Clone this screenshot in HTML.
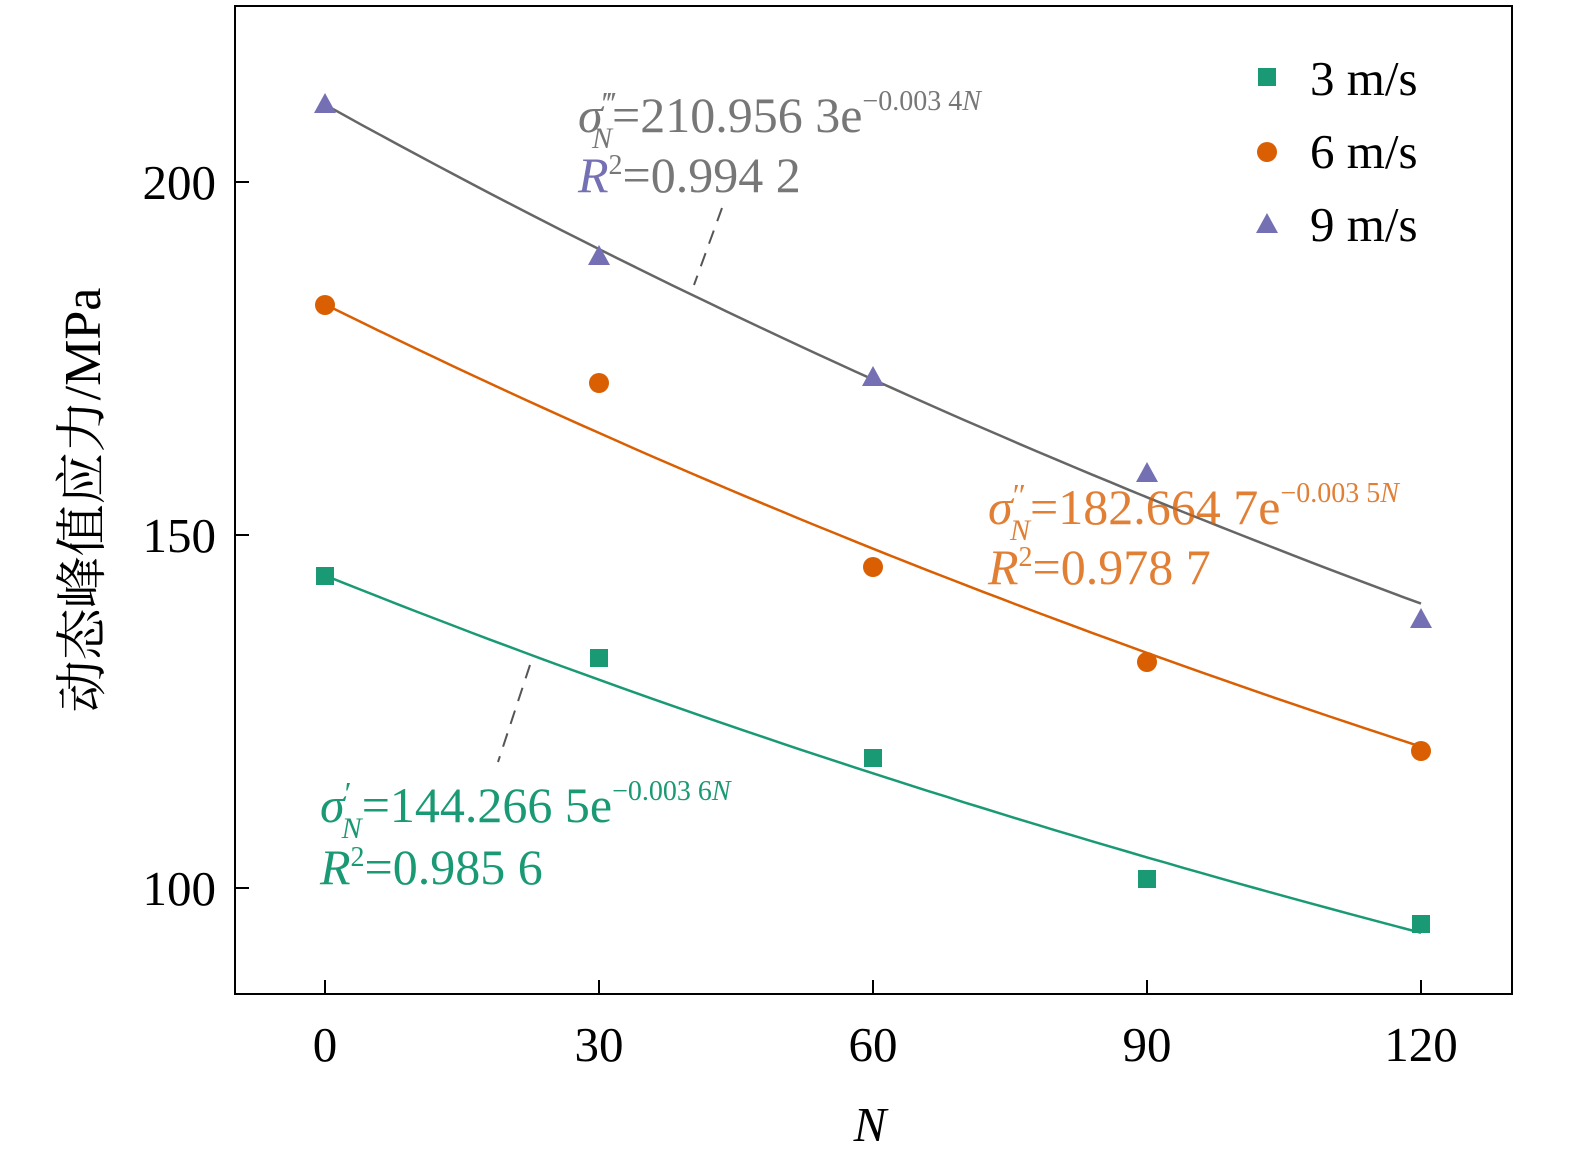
<!DOCTYPE html><html><head><meta charset="utf-8"><style>body{margin:0;background:#fff}svg{display:block}text{font-family:"Liberation Serif","Noto Serif CJK SC",serif}</style></head><body>
<svg id="s" width="1575" height="1153" xmlns="http://www.w3.org/2000/svg">
<rect x="235" y="6" width="1277" height="988" fill="none" stroke="#000" stroke-width="2"/>
<g stroke="#000" stroke-width="2">
<line x1="325" y1="994" x2="325" y2="980"/><line x1="599" y1="994" x2="599" y2="980"/><line x1="873" y1="994" x2="873" y2="980"/><line x1="1147" y1="994" x2="1147" y2="980"/><line x1="1421" y1="994" x2="1421" y2="980"/>
<line x1="235" y1="182" x2="249" y2="182"/><line x1="235" y1="535" x2="249" y2="535"/><line x1="235" y1="888" x2="249" y2="888"/>
</g>
<g font-size="49" text-anchor="middle" fill="#000">
<text x="325" y="1061">0</text><text x="599" y="1061">30</text><text x="873" y="1061">60</text><text x="1147" y="1061">90</text><text x="1421" y="1061">120</text>
<text x="870" y="1141" font-style="italic">N</text>
</g>
<g font-size="49" text-anchor="end"><text x="216" y="199">200</text><text x="216" y="552">150</text><text x="216" y="905">100</text></g>
<text transform="translate(100,500) rotate(-90)" font-size="52" text-anchor="middle">动态峰值应力/MPa</text>
<g id="curves"></g>
<g stroke-dasharray="14,10" stroke="#555" stroke-width="2"><line x1="722" y1="208" x2="694" y2="285"/><line x1="530" y1="665" x2="498" y2="762"/></g>
<g fill="#1a9a74"><rect x="316" y="567" width="18" height="18"/><rect x="590" y="649" width="18" height="18"/><rect x="864" y="749" width="18" height="18"/><rect x="1138" y="870" width="18" height="18"/><rect x="1412" y="915" width="18" height="18"/><rect x="1258" y="68" width="18" height="18"/></g>
<g fill="#d95f02"><circle cx="325" cy="305" r="10"/><circle cx="599" cy="383" r="10"/><circle cx="873" cy="567" r="10"/><circle cx="1147" cy="662" r="10"/><circle cx="1421" cy="751" r="10"/><circle cx="1267" cy="152" r="10"/></g>
<g fill="#7570b3"><path d="M325,93 l11,20 h-22z"/><path d="M599,245 l11,20 h-22z"/><path d="M873,366 l11,20 h-22z"/><path d="M1147,462 l11,20 h-22z"/><path d="M1421,608 l11,20 h-22z"/><path d="M1267,213 l11,20 h-22z"/></g>
<g font-size="49"><text x="1310" y="95">3 m/s</text><text x="1310" y="168">6 m/s</text><text x="1310" y="241">9 m/s</text></g>
<g font-size="50" fill="#777"><text x="578" y="132"><tspan font-style="italic">σ</tspan><tspan font-size="32" dy="-18">‴</tspan><tspan font-size="30" font-style="italic" dx="-24" dy="34">N</tspan><tspan dy="-16">=210.956 3e</tspan><tspan font-size="28" dy="-22">−0.003 4<tspan font-style="italic">N</tspan></tspan></text>
<text x="578" y="192"><tspan font-style="italic" fill="#7570b3">R</tspan><tspan font-size="28" dy="-18">2</tspan><tspan dy="18">=0.994 2</tspan></text></g>
<g font-size="50" fill="#d95f02" fill-opacity="0.8"><text x="988" y="524"><tspan font-style="italic">σ</tspan><tspan font-size="32" dy="-18">″</tspan><tspan font-size="30" font-style="italic" dx="-16" dy="34">N</tspan><tspan dy="-16">=182.664 7e</tspan><tspan font-size="28" dy="-22">−0.003 5<tspan font-style="italic">N</tspan></tspan></text>
<text x="988" y="584"><tspan font-style="italic">R</tspan><tspan font-size="28" dy="-18">2</tspan><tspan dy="18">=0.978 7</tspan></text></g>
<g font-size="50" fill="#1a9a74"><text x="320" y="822"><tspan font-style="italic">σ</tspan><tspan font-size="32" dy="-18">′</tspan><tspan font-size="30" font-style="italic" dx="-10" dy="34">N</tspan><tspan dy="-16">=144.266 5e</tspan><tspan font-size="28" dy="-22">−0.003 6<tspan font-style="italic">N</tspan></tspan></text>
<text x="320" y="884"><tspan font-style="italic">R</tspan><tspan font-size="28" dy="-18">2</tspan><tspan dy="18">=0.985 6</tspan></text></g>
</svg>
<script>
var g=document.getElementById('curves'),ns='http://www.w3.org/2000/svg';
[[144.2665,0.0036,'#1a9a74'],[182.6647,0.0035,'#d95f02'],[210.9563,0.0034,'#666']].forEach(function(c){
var d='';for(var n=0;n<=120;n+=2){var x=325+n*274/30,y=182+(200-c[0]*Math.exp(-c[1]*n))*7.06;d+=(n?'L':'M')+x.toFixed(1)+','+y.toFixed(1);}
var p=document.createElementNS(ns,'path');p.setAttribute('d',d);p.setAttribute('fill','none');p.setAttribute('stroke',c[2]);p.setAttribute('stroke-width','2.5');g.appendChild(p);});
</script>
</body></html>
